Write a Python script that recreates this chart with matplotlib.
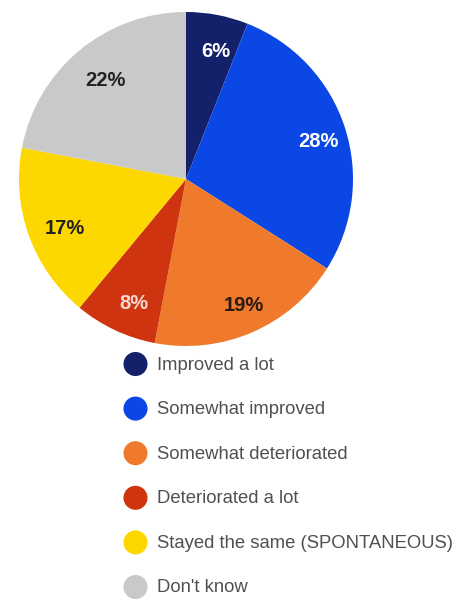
import matplotlib
matplotlib.use("Agg")
import matplotlib.pyplot as plt

categories = ["Improved a lot", "Somewhat improved", "Somewhat deteriorated",
              "Deteriorated a lot", "Stayed the same (SPONTANEOUS)", "Don't know"]
shares = [6, 28, 19, 8, 17, 22]
colors = ["#13216a", "#0b47e4", "#f07a2c", "#cf3410", "#fcd800", "#c9c9c9"]
label_colors = ["white", "white", "#2a1a10", "#f6d6d0", "#222222", "#222222"]

plt.rcParams['font.family'] = ['Liberation Sans', 'DejaVu Sans']

W, H = 454, 600
fig = plt.figure(figsize=(W / 100, H / 100), dpi=100)

# pie: centre (186, 179) px, radius 167 px
cx, cy, r = 186, 179, 167
ax = fig.add_axes([(cx - r) / W, 1 - (cy + r) / H, 2 * r / W, 2 * r / H])
wedges, texts, autotexts = ax.pie(
    shares, colors=colors, startangle=90, counterclock=False,
    autopct=lambda p: "%d%%" % round(p), pctdistance=0.8,
    wedgeprops=dict(linewidth=0))
# percentages sit a little right of and below the wedge centroid
dx, dy = 5 / r, -4 / r
for t, c in zip(autotexts, label_colors):
    x, y = t.get_position()
    t.set_position((x + dx, y + dy))
    t.set_color(c)
    t.set_fontsize(14.5)
    t.set_fontweight('bold')
ax.set_xlim(-1, 1)
ax.set_ylim(-1, 1)
ax.set_aspect('equal')
ax.axis('off')

# legend as a column of dots with labels
lg = fig.add_axes([0, 0, 1, 1])
lg.set_xlim(0, W)
lg.set_ylim(H, 0)
lg.axis('off')
y0, step = 364, 44.6
for i, (name, c) in enumerate(zip(categories, colors)):
    y = y0 + i * step
    lg.scatter([135.5], [y], s=300, color=c, edgecolors='none')
    lg.text(157, y + 1, name, fontsize=13.3, color='#505050', va='center', ha='left')

fig.savefig("out.png", dpi=100)
